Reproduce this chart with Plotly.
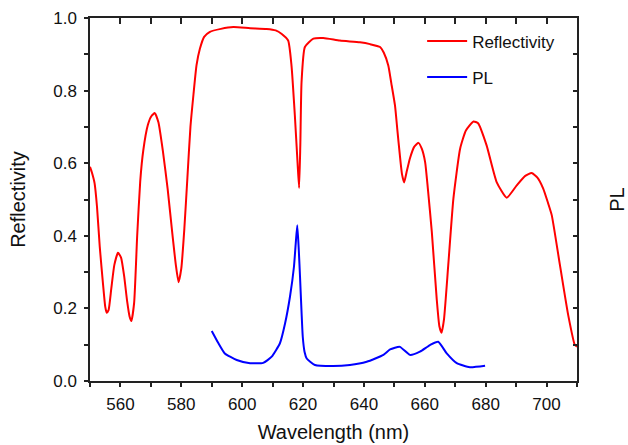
import plotly.graph_objects as go

# Reflectivity spectrum
refl_nm = [550.0, 550.6, 551.5, 552.3, 553.2, 554.3, 555.0, 555.5, 556.1, 557.0,
           558.0, 559.2, 560.2, 561.2, 562.2, 563.0, 563.6, 564.5, 565.5, 566.5,
           567.5, 569.0, 570.2, 571.3, 572.5, 574.0, 575.5, 577.0, 578.2, 579.1,
           580.0, 581.0, 582.0, 583.0, 584.0, 585.0, 586.1, 587.5, 589.4, 593.0,
           597.1, 602.6, 608.0, 611.0, 613.0, 615.1, 616.2, 617.3, 618.2, 618.7,
           619.1, 619.5, 620.6, 623.4, 626.6, 632.1, 638.7, 642.0, 645.3, 646.5,
           648.0, 649.0, 650.2, 651.0, 651.8, 652.5, 653.2, 654.0, 655.1, 656.5,
           657.9, 659.0, 660.1, 661.0, 662.3, 663.9, 664.8, 665.5, 666.3, 667.7,
           669.4, 671.6, 673.5, 676.0, 677.5, 680.3, 683.6, 686.9, 690.2, 693.0,
           695.1, 697.0, 698.9, 700.5, 701.7, 704.4, 707.1, 709.3, 710.0]
refl_val = [0.590, 0.575, 0.545, 0.480, 0.370, 0.265, 0.205, 0.188, 0.195, 0.255,
            0.320, 0.353, 0.340, 0.290, 0.220, 0.178, 0.165, 0.215, 0.400, 0.550,
            0.635, 0.705, 0.730, 0.738, 0.712, 0.630, 0.530, 0.410, 0.320, 0.272,
            0.310, 0.420, 0.560, 0.700, 0.790, 0.870, 0.915, 0.948, 0.962, 0.970,
            0.975, 0.972, 0.970, 0.966, 0.956, 0.938, 0.869, 0.732, 0.600, 0.532,
            0.650, 0.823, 0.920, 0.943, 0.945, 0.938, 0.933, 0.928, 0.920, 0.905,
            0.869, 0.820, 0.759, 0.690, 0.622, 0.570, 0.547, 0.575, 0.613, 0.645,
            0.656, 0.640, 0.603, 0.530, 0.411, 0.227, 0.150, 0.133, 0.170, 0.319,
            0.503, 0.640, 0.690, 0.715, 0.710, 0.649, 0.548, 0.505, 0.539, 0.565,
            0.573, 0.560, 0.530, 0.490, 0.457, 0.319, 0.182, 0.099, 0.095]

# Photoluminescence spectrum
pl_nm = [590.0, 592.2, 594.3, 598.2, 602.6, 606.9, 609.7, 612.4, 614.1, 615.7,
         617.0, 617.6, 618.1, 618.6, 619.0, 619.5, 619.9, 620.5, 621.2, 623.9,
         629.9, 635.4, 640.9, 646.4, 648.6, 651.8, 655.1, 658.4, 661.7, 664.4,
         667.2, 670.5, 674.8, 679.8]
pl_val = [0.138, 0.104, 0.076, 0.058, 0.049, 0.050, 0.067, 0.104, 0.159, 0.232,
          0.314, 0.380, 0.429, 0.360, 0.287, 0.190, 0.122, 0.080, 0.062, 0.044,
          0.041, 0.044, 0.053, 0.072, 0.087, 0.094, 0.072, 0.081, 0.099, 0.108,
          0.076, 0.049, 0.038, 0.042]

FONT = dict(family="Liberation Sans, Arial, sans-serif", size=17, color="#111")
AXIS = "#222"

fig = go.Figure()
fig.add_trace(go.Scatter(x=refl_nm, y=refl_val, mode="lines", name="Reflectivity",
                         legendgroup="r", line=dict(color="#ff0000", width=2,
                                                    shape="spline", smoothing=0.5)))
fig.add_trace(go.Scatter(x=pl_nm, y=pl_val, mode="lines", name="PL", legendgroup="p",
                         xaxis="x2", yaxis="y2",
                         line=dict(color="#0000ff", width=2, shape="spline", smoothing=0.5)))

fig.update_layout(
    width=628, height=445,
    margin=dict(l=90, r=51, t=18, b=64),
    paper_bgcolor="white", plot_bgcolor="white",
    font=FONT,
    xaxis=dict(range=[550, 710], dtick=20, ticks="outside", ticklen=4, tickwidth=1.5,
               tickcolor=AXIS, showline=True, linecolor=AXIS, linewidth=1.5,
               showgrid=False, zeroline=False, automargin=False, ticklabelstandoff=3,
               minor=dict(dtick=10, ticks="outside", ticklen=4, tickcolor=AXIS),
               title=dict(text="Wavelength (nm)", standoff=12)),
    yaxis=dict(range=[0, 1.0], dtick=0.2, tickformat=".1f", ticks="outside", ticklen=4,
               tickwidth=1.5, tickcolor=AXIS, showline=True, linecolor=AXIS, linewidth=1.5,
               showgrid=False, zeroline=False, automargin=False, ticklabelstandoff=4,
               minor=dict(dtick=0.1, ticks="outside", ticklen=4, tickcolor=AXIS),
               title=dict(text="Reflectivity", standoff=22)),
    xaxis2=dict(range=[550, 710], overlaying="x", side="top", anchor="y2",
                dtick=10, ticks="inside", ticklen=6, tickwidth=1.5, tickcolor=AXIS,
                showticklabels=False, showline=True, linecolor=AXIS, linewidth=1.5,
                showgrid=False, zeroline=False, automargin=False),
    yaxis2=dict(range=[0, 1.0], overlaying="y", side="right", anchor="x2",
                dtick=0.1, ticks="inside", ticklen=4, tickwidth=1.5, tickcolor=AXIS,
                showticklabels=False, showline=True, linecolor=AXIS, linewidth=1.5,
                showgrid=False, zeroline=False, automargin=False,
                title=dict(text="PL", standoff=37)),
    legend=dict(x=0.682, y=0.985, xanchor="left", yanchor="top", bgcolor="rgba(0,0,0,0)",
                tracegroupgap=11, itemwidth=40, font=FONT),
    showlegend=True,
)

# drop the browser's default 8px body margin so the figure sits at the window's corner
fig.write_html("out.html", config={"displayModeBar": False},
               post_script="document.body.style.margin='0';")
